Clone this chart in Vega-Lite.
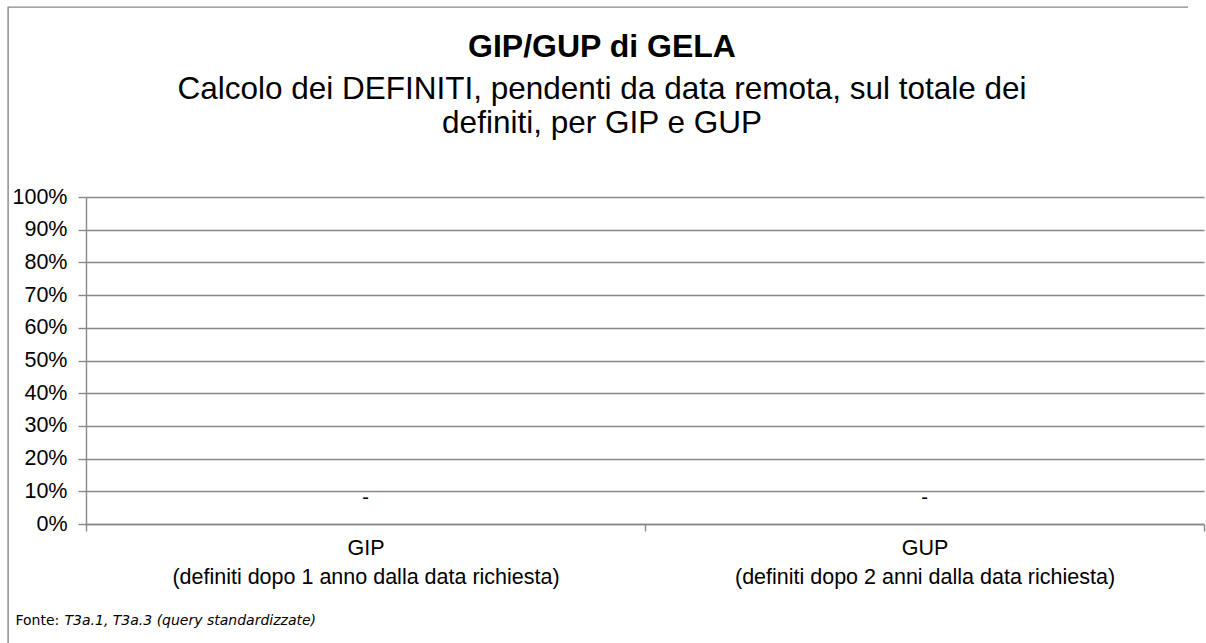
{
  "$schema": "https://vega.github.io/schema/vega-lite/v6.json",
  "width": 1198,
  "height": 636,
  "autosize": {"type": "none"},
  "padding": {"left": 8, "top": 7, "right": 0, "bottom": 0},
  "background": "white",
  "config": {
    "font": "Liberation Sans",
    "view": {"stroke": "#888888", "strokeWidth": 1.4, "strokeDash": [1180, 1852, 640, 10]}
  },
  "title": {
    "text": "GIP/GUP di GELA",
    "subtitle": ["Calcolo dei DEFINITI, pendenti da data remota, sul totale dei", "definiti, per GIP e GUP"],
    "anchor": "middle",
    "dx": -5,
    "font": "Liberation Sans",
    "fontSize": 32,
    "fontWeight": "bold",
    "color": "#000000",
    "subtitleFont": "Liberation Sans",
    "subtitleFontSize": 31.5,
    "subtitleColor": "#000000",
    "subtitleLineHeight": 34,
    "subtitlePadding": 10,
    "offset": -133
  },
  "data": {
    "values": [
      {"categoria": "GIP\n(definiti dopo 1 anno dalla data richiesta)", "valore": 0, "etichetta": "-"},
      {"categoria": "GUP\n(definiti dopo 2 anni dalla data richiesta)", "valore": 0, "etichetta": "-"}
    ]
  },
  "layer": [
    {
      "mark": {"type": "bar", "color": "#4F81BD"},
      "encoding": {
        "x": {
          "field": "categoria",
          "type": "nominal",
          "sort": null,
          "scale": {"paddingInner": 0, "paddingOuter": 0, "range": [78, 1196]},
          "axis": {
            "orient": "bottom",
            "offset": -119,
            "title": "Fonte:",
            "titleFont": "DejaVu Sans",
            "titleFontSize": 14,
            "titleFontWeight": "normal",
            "titleColor": "#000000",
            "titleX": 7,
            "titleY": 100,
            "titleAnchor": null,
            "titleAlign": "left",
            "titleBaseline": "alphabetic",
            "labelExpr": "datum.value ? split(datum.value, '\\n') : ''",
            "labelAngle": 0,
            "labelFontSize": 21.5,
            "labelLineHeight": 29,
            "labelLimit": 0,
            "labelColor": "#000000",
            "labelPadding": 6,
            "tickBand": "extent",
            "ticks": true,
            "tickSize": 7,
            "tickColor": "#888888",
            "tickWidth": 1.4,
            "domainColor": "#888888",
            "domainWidth": 1.4,
            "grid": false
          }
        },
        "y": {
          "field": "valore",
          "type": "quantitative",
          "scale": {"domain": [0, 1], "nice": false, "range": [517, 190]},
          "axis": {
            "orient": "left",
            "offset": -78,
            "title": "T3a.1, T3a.3 (query standardizzate)",
            "titleFont": "DejaVu Sans",
            "titleFontSize": 14,
            "titleFontWeight": "normal",
            "titleFontStyle": "italic",
            "titleColor": "#000000",
            "titleAngle": 0,
            "titleX": -22,
            "titleY": 617,
            "titleAnchor": null,
            "titleAlign": "left",
            "titleBaseline": "alphabetic",
            "tickCount": 10,
            "format": ".0%",
            "labelOverlap": false,
            "labelFontSize": 21.5,
            "labelColor": "#000000",
            "labelPadding": 11,
            "tickSize": 8,
            "tickColor": "#888888",
            "tickWidth": 1.4,
            "domainColor": "#888888",
            "domainWidth": 1.4,
            "grid": true,
            "gridColor": "#888888",
            "gridWidth": 1.4
          }
        }
      }
    },
    {
      "mark": {"type": "text", "fontSize": 20, "color": "#000000", "dy": -26},
      "encoding": {
        "x": {"field": "categoria", "type": "nominal", "sort": null},
        "y": {"field": "valore", "type": "quantitative"},
        "text": {"field": "etichetta"}
      }
    }
  ]
}
